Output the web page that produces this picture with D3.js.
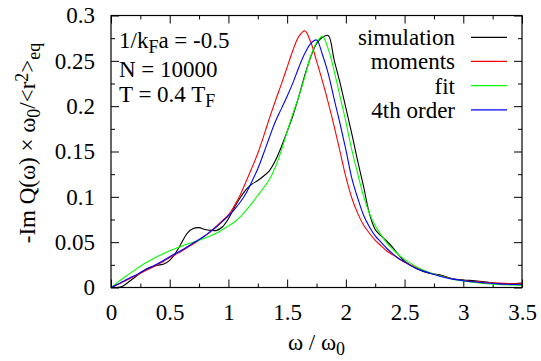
<!DOCTYPE html>
<html>
<head>
<meta charset="utf-8">
<script src="https://cdn.jsdelivr.net/npm/d3@7"></script>
<style>
  body { margin: 0; }
  svg text, svg tspan { font-family: 'Liberation Serif', serif !important; }
</style>
</head>
<body>
<svg id="chart" width="541" height="361"></svg>
<script>
// ---- data ----
const omega = [0,0.05,0.1,0.15,0.2,0.25,0.3,0.35,0.4,0.45,0.5,0.55,0.6,0.65,0.7,0.75,0.8,0.85,0.9,0.95,
  1.0,1.05,1.1,1.15,1.2,1.25,1.3,1.35,1.4,1.45,1.5,1.55,1.6,1.65,1.7,1.75,1.8,1.85,1.9,1.95,
  2.0,2.05,2.1,2.15,2.2,2.25,2.3,2.35,2.4,2.45,2.5,2.6,2.7,2.8,2.9,3.0,3.1,3.2,3.3,3.4,3.5];

const simulation = [0,0,0.0015,0.006,0.011,0.016,0.0205,0.023,0.0245,0.026,0.030,0.038,0.049,0.060,0.065,0.066,0.064,0.063,0.063,0.067,
  0.076,0.088,0.099,0.108,0.114,0.118,0.123,0.129,0.140,0.155,0.172,0.190,0.211,0.234,0.254,0.269,0.276,0.278,0.251,0.226,
  0.198,0.170,0.140,0.112,0.082,0.064,0.057,0.051,0.044,0.036,0.029,0.021,0.016,0.014,0.010,0.0083,0.0075,0.006,0.0042,0.004,0.0048];

const moments = [0,0.003,0.006,0.009,0.0125,0.0157,0.019,0.022,0.0255,0.029,0.033,0.0365,0.040,0.044,0.048,0.052,0.057,0.062,0.068,0.074,
  0.080,0.090,0.102,0.117,0.132,0.148,0.167,0.187,0.206,0.224,0.243,0.262,0.277,0.283,0.271,0.250,0.228,0.204,0.178,0.150,
  0.122,0.099,0.082,0.069,0.060,0.052,0.046,0.040,0.036,0.032,0.028,0.022,0.0165,0.013,0.010,0.0078,0.0065,0.0055,0.0048,0.0043,0.004];

const fit = [0,0.005,0.010,0.0145,0.019,0.0235,0.0275,0.031,0.0345,0.0375,0.0405,0.043,0.0455,0.048,0.050,0.052,0.0545,0.057,0.060,0.064,
  0.068,0.072,0.078,0.085,0.093,0.1015,0.110,0.1195,0.133,0.151,0.172,0.192,0.211,0.232,0.255,0.270,0.277,0.263,0.239,0.211,
  0.183,0.152,0.126,0.101,0.082,0.068,0.058,0.049,0.042,0.036,0.031,0.023,0.017,0.013,0.0095,0.0072,0.0055,0.0042,0.0033,0.0028,0.0026];

const fourthOrder = [0,0.003,0.0065,0.010,0.013,0.0165,0.020,0.023,0.0265,0.030,0.034,0.0375,0.041,0.045,0.049,0.053,0.057,0.062,0.067,0.073,
  0.079,0.086,0.094,0.104,0.117,0.131,0.148,0.166,0.183,0.197,0.211,0.226,0.243,0.258,0.269,0.273,0.257,0.236,0.208,0.181,
  0.152,0.121,0.099,0.080,0.067,0.057,0.050,0.043,0.037,0.032,0.028,0.021,0.0165,0.0125,0.0095,0.0075,0.006,0.005,0.004,0.0035,0.003];

const seriesNames = ["simulation", "moments", "fit", "4th order"];
const seriesColors = ["#000000", "#ff0000", "#00ff00", "#0000ff"];
const xTicks = [0, 0.5, 1, 1.5, 2, 2.5, 3, 3.5];
const xMinorTicks = [0.25, 0.75, 1.25, 1.75, 2.25, 2.75, 3.25];
const yTicks = [0, 0.05, 0.1, 0.15, 0.2, 0.25, 0.3];
const yMinorTicks = [0.025, 0.075, 0.125, 0.175, 0.225, 0.275];

// ---- layout ----
const L = 111, R = 522, T = 15.5, B = 287.5;
const FS = 23;
const FONT = "'Liberation Serif'";
const svg = d3.select("#chart");

const x = d3.scaleLinear().domain([0, 3.5]).range([L, R]);
const y = d3.scaleLinear().domain([0, 0.3]).range([B, T]);

const fmt = d => String(d);

function styleAxis(g) {
  g.attr("font-family", null).attr("font-size", null);
  g.select(".domain").remove();
  g.selectAll(".tick line").attr("stroke", "#000").attr("stroke-width", 1);
  g.selectAll("text").attr("fill", "#000")
    .style("font-family", FONT).style("font-size", FS + "px");
}

// bottom axis
svg.append("g").attr("transform", `translate(0,${B})`)
  .call(d3.axisBottom(x).tickValues(xTicks).tickFormat(fmt).tickSizeInner(-8).tickSizeOuter(0).tickPadding(16))
  .call(styleAxis);
svg.append("g").attr("transform", `translate(0,${B})`)
  .call(d3.axisBottom(x).tickValues(xMinorTicks).tickFormat("").tickSizeInner(-4).tickSizeOuter(0))
  .call(styleAxis);
// top axis
svg.append("g").attr("transform", `translate(0,${T})`)
  .call(d3.axisTop(x).tickValues(xTicks).tickFormat("").tickSizeInner(-8).tickSizeOuter(0))
  .call(styleAxis);
svg.append("g").attr("transform", `translate(0,${T})`)
  .call(d3.axisTop(x).tickValues(xMinorTicks).tickFormat("").tickSizeInner(-4).tickSizeOuter(0))
  .call(styleAxis);
// left axis
svg.append("g").attr("transform", `translate(${L},0)`)
  .call(d3.axisLeft(y).tickValues(yTicks).tickFormat(fmt).tickSizeInner(-8).tickSizeOuter(0).tickPadding(16))
  .call(styleAxis);
svg.append("g").attr("transform", `translate(${L},0)`)
  .call(d3.axisLeft(y).tickValues(yMinorTicks).tickFormat("").tickSizeInner(-4).tickSizeOuter(0))
  .call(styleAxis);
// right axis
svg.append("g").attr("transform", `translate(${R},0)`)
  .call(d3.axisRight(y).tickValues(yTicks).tickFormat("").tickSizeInner(-8).tickSizeOuter(0))
  .call(styleAxis);
svg.append("g").attr("transform", `translate(${R},0)`)
  .call(d3.axisRight(y).tickValues(yMinorTicks).tickFormat("").tickSizeInner(-4).tickSizeOuter(0))
  .call(styleAxis);

// clip
svg.append("clipPath").attr("id", "clip").append("rect")
  .attr("x", L).attr("y", T).attr("width", R - L).attr("height", B - T);

const allSeries = [simulation, moments, fit, fourthOrder];
const line = d3.line().x((d, i) => x(omega[i])).y(d => y(d)).curve(d3.curveCatmullRom.alpha(0.5));

const plot = svg.append("g").attr("clip-path", "url(#clip)");
allSeries.forEach((vals, k) => {
  plot.append("path").attr("d", line(vals)).attr("fill", "none")
    .attr("stroke", seriesColors[k]).attr("stroke-width", 1.1);
});

// frame
svg.append("rect").attr("x", L).attr("y", T).attr("width", R - L).attr("height", B - T)
  .attr("fill", "none").attr("stroke", "#000").attr("stroke-width", 1.2);

// text helper
function richText(xp, yp, parts, anchor) {
  const t = svg.append("text").attr("x", xp).attr("y", yp).attr("fill", "#000")
    .style("font-family", FONT).style("font-size", FS + "px")
    .attr("text-anchor", anchor || "start");
  parts.forEach(p => {
    const s = t.append("tspan").text(p.t);
    if (p.sub) s.attr("baseline-shift", "-25%").style("font-size", (FS * 0.78) + "px");
    if (p.sup) s.attr("baseline-shift", "40%").style("font-size", (FS * 0.78) + "px");
  });
  return t;
}

// legend
const legY = [37.3, 61.3, 85.6, 109.9];
seriesNames.forEach((name, k) => {
  richText(455, legY[k] + 8, [{t: name}], "end");
  svg.append("line").attr("x1", 471).attr("x2", 507).attr("y1", legY[k]).attr("y2", legY[k])
    .attr("stroke", seriesColors[k]).attr("stroke-width", 1.2);
});

// parameter labels
richText(119, 48.3, [{t: "1/k"}, {t: "F", sub: true}, {t: "a = -0.5"}]);
richText(119, 77.3, [{t: "N = 10000"}]);
richText(119, 101.5, [{t: "T = 0.4 T"}, {t: "F", sub: true}]);

// x label
richText(316.5, 350, [{t: "ω / ω"}, {t: "0", sub: true}], "middle");

// y label
const yl = richText(0, 0, [{t: "-Im Q(ω) × ω"}, {t: "0", sub: true}, {t: "/<r"}, {t: "2", sup: true}, {t: ">"}, {t: "eq", sub: true}], "middle");
yl.attr("transform", "translate(35,143) rotate(-90)");
</script>
</body>
</html>
